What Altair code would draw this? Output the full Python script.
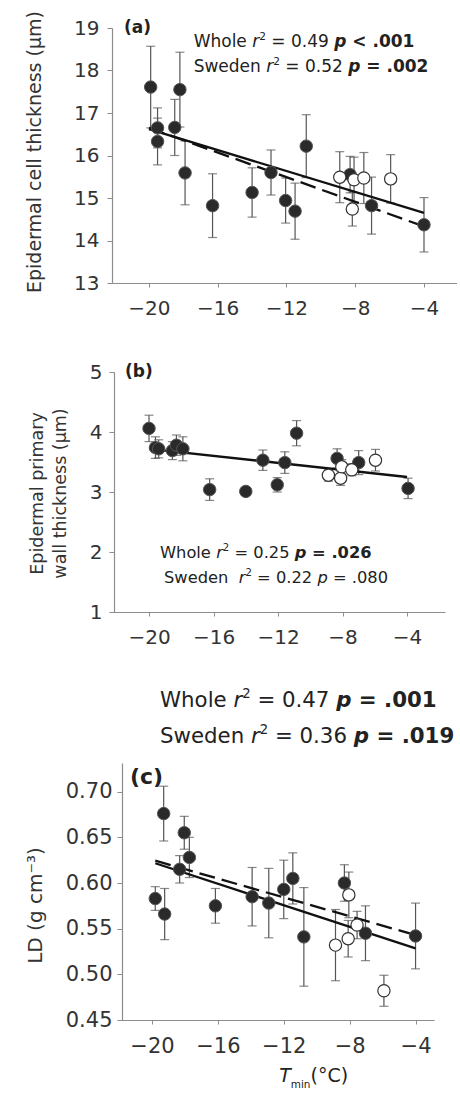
import altair as alt
import pandas as pd

FONT = "DejaVu Sans"
INK = "#222222"
DOT = "#2a2a2a"
AXIS_GRAY = "#8c8c8c"
BAR_GRAY = "#555555"
X_TICKS = [-20, -16, -12, -8, -4]

# ---------------- (a) epidermal cell thickness ----------------
a_sw_x = [-19.9, -19.5, -19.5, -18.5, -18.2, -17.9, -16.3, -14.0, -12.9, -12.05, -11.5, -10.85, -8.3, -7.05, -4.0]
a_sw_y = [17.61, 16.65, 16.33, 16.66, 17.55, 15.59, 14.82, 15.13, 15.60, 14.94, 14.69, 16.22, 15.55, 14.82, 14.37]
a_sw_e = [0.96, 0.47, 0.55, 0.66, 0.88, 0.75, 0.75, 0.58, 0.53, 0.53, 0.66, 0.74, 0.43, 0.67, 0.64]
a_ot_x = [-8.9, -8.07, -8.17, -7.5, -5.94]
a_ot_y = [15.49, 15.43, 14.74, 15.47, 15.45]
a_ot_e = [0.60, 0.53, 0.40, 0.60, 0.57]
a_fit_x = [-20.0, -4.0]
a_fit_whole = [16.62, 14.65]
a_fit_sweden = [16.65, 14.33]

# ---------------- (b) epidermal primary wall thickness ----------------
b_sw_x = [-20.0, -19.6, -19.4, -18.55, -18.3, -17.9, -16.24, -14.0, -12.94, -12.05, -11.58, -10.85, -8.34, -7.0, -3.94]
b_sw_y = [4.06, 3.74, 3.72, 3.69, 3.78, 3.72, 3.04, 3.01, 3.53, 3.12, 3.49, 3.98, 3.56, 3.49, 3.06]
b_sw_e = [0.22, 0.18, 0.15, 0.15, 0.17, 0.20, 0.18, 0.03, 0.17, 0.12, 0.18, 0.21, 0.16, 0.20, 0.17]
b_ot_x = [-8.88, -8.12, -8.05, -7.43, -5.96]
b_ot_y = [3.28, 3.23, 3.42, 3.37, 3.53]
b_ot_e = [0.10, 0.12, 0.12, 0.10, 0.18]
b_fit_x = [-20.0, -4.0]
b_fit_whole = [3.72, 3.25]

# ---------------- (c) leaf density ----------------
c_sw_x = [-19.8, -19.29, -19.23, -18.32, -18.04, -17.73, -16.15, -13.92, -12.91, -12.0, -11.45, -10.78, -8.32, -7.04, -4.0]
c_sw_y = [0.583, 0.676, 0.566, 0.615, 0.655, 0.628, 0.575, 0.585, 0.578, 0.593, 0.605, 0.541, 0.600, 0.545, 0.542]
c_sw_e = [0.013, 0.030, 0.028, 0.015, 0.018, 0.022, 0.019, 0.032, 0.038, 0.032, 0.028, 0.054, 0.020, 0.030, 0.036]
c_ot_x = [-8.86, -8.05, -8.09, -7.55, -5.92]
c_ot_y = [0.532, 0.587, 0.539, 0.554, 0.482]
c_ot_e = [0.039, 0.025, 0.020, 0.015, 0.017]
c_fit_x = [-19.8, -4.0]
c_fit_whole = [0.6216, 0.5285]
c_fit_sweden = [0.6245, 0.543]

# statistics text, split into runs: n=normal, i=italic, b=bold, bi=bold italic, sup=superscript
a_notes = [
    [("Whole ", "n"), ("r", "i"), ("2", "sup"), (" = 0.49 ", "n"), ("p", "bi"), (" < .001", "b")],
    [("Sweden ", "n"), ("r", "i"), ("2", "sup"), (" = 0.52 ", "n"), ("p", "bi"), (" = .002", "b")],
]
b_notes = [
    [("Whole ", "n"), ("r", "i"), ("2", "sup"), (" = 0.25 ", "n"), ("p", "bi"), (" = .026", "b")],
    [("Sweden  ", "n"), ("r", "i"), ("2", "sup"), (" = 0.22 ", "n"), ("p", "i"), (" = .080", "n")],
]
c_notes = [
    [("Whole ", "n"), ("r", "i"), ("2", "sup"), (" = 0.47 ", "n"), ("p", "bi"), (" = .001", "b")],
    [("Sweden ", "n"), ("r", "i"), ("2", "sup"), (" = 0.36 ", "n"), ("p", "bi"), (" = .019", "b")],
]
x_title_runs = [("T", "i"), ("min", "sub"), ("(°C)", "n")]

# approximate DejaVu Sans advance widths (1/1000 em), used to place text runs
W_REG = {" ": 318, "(": 390, ")": 390, ".": 318, "<": 838, "=": 838, "W": 989, "S": 635,
         "T": 611, "h": 634, "o": 612, "l": 278, "e": 615, "w": 818, "d": 635, "n": 634,
         "r": 411, "p": 635, "m": 974, "i": 278, "°": 500, "C": 698}
W_BOLD = {" ": 348, ".": 380, "<": 838, "=": 838, "p": 716}
for _d in "0123456789":
    W_REG[_d] = 636
    W_BOLD[_d] = 696


def run_width(s, size, bold):
    table = W_BOLD if bold else W_REG
    return sum(table.get(ch, W_REG.get(ch, 620)) for ch in s) * size / 1000.0


ONE = pd.DataFrame({"k": [0]})


def text_runs(xv, yv, runs, size, xs, ys):
    layers = []
    dx = 0.0
    for txt, st in runs:
        bold = st in ("b", "bi")
        italic = st in ("i", "bi")
        fs = size * 0.62 if st == "sup" else (size * 0.55 if st == "sub" else size)
        core = txt.strip()
        dx += (len(txt) - len(txt.lstrip())) * run_width(" ", fs, bold)
        if core:
            dy = -size * 0.42 if st == "sup" else (size * 0.32 if st == "sub" else 0.0)
            layers.append(
                alt.Chart(ONE).mark_text(
                    align="left", baseline="alphabetic", dx=dx, dy=dy, font=FONT,
                    fontSize=fs, fontWeight="bold" if bold else "normal",
                    fontStyle="italic" if italic else "normal", color=INK,
                ).encode(x=alt.XDatum(xv, scale=xs), y=alt.YDatum(yv, scale=ys), text=alt.value(core))
            )
            dx += run_width(core, fs, bold)
        dx += (len(txt) - len(txt.rstrip())) * run_width(" ", fs, bold)
    return layers


def panel(sw, ot, fits, notes, note_xy, note_size, tag, tag_xy, tag_size,
          xdom, xrange, ydom, yrange, yticks, ytitle, ytitle_size, ytitle_pad, ytitle_y,
          label_size, ylabel_pad, view_h, extra=None):
    # the view spans the band of the page that belongs to this panel; the scale
    # ranges put the axes inside it
    xs = alt.Scale(domain=xdom, range=xrange, nice=False, zero=False)
    ys = alt.Scale(domain=ydom, range=yrange, nice=False, zero=False)
    xax = alt.Axis(values=X_TICKS, title=None, tickSize=4, labelPadding=11,
                   labelFontSize=label_size, domainWidth=1.2)
    yax_kw = dict(values=yticks, title=ytitle, tickSize=5, labelPadding=ylabel_pad,
                  labelFontSize=label_size, titleFontSize=ytitle_size, titleLineHeight=23,
                  titlePadding=ytitle_pad, titleY=ytitle_y, domainWidth=1.2,
                  format=".2f" if isinstance(yticks[0], float) else "d")
    if xrange[0] > 0:
        yax_kw["offset"] = -xrange[0]
    yax = alt.Axis(**yax_kw)

    pts = pd.concat([
        pd.DataFrame({"x": sw[0], "y": sw[1], "e": sw[2], "grp": "Sweden"}),
        pd.DataFrame({"x": ot[0], "y": ot[1], "e": ot[2], "grp": "Other"}),
    ], ignore_index=True)
    pts["lo"] = pts["y"] - pts["e"]
    pts["hi"] = pts["y"] + pts["e"]

    X = lambda f: alt.X(f, type="quantitative", scale=xs, axis=xax)
    Y = lambda f: alt.Y(f, type="quantitative", scale=ys, axis=yax)

    base = alt.Chart(pts)
    bars = base.mark_rule(color=BAR_GRAY, strokeWidth=1.2).encode(x=X("x"), y=Y("lo"), y2="hi:Q")
    cap_lo = base.mark_tick(orient="horizontal", size=9, thickness=1.2, color=BAR_GRAY).encode(x=X("x"), y=Y("lo"))
    cap_hi = base.mark_tick(orient="horizontal", size=9, thickness=1.2, color=BAR_GRAY).encode(x=X("x"), y=Y("hi"))

    line_layers = []
    for fx, fy, dashed in fits:
        fdf = pd.DataFrame({"x": fx, "y": fy})
        kw = dict(color="#111111", strokeWidth=2.3)
        if dashed:
            kw["strokeDash"] = [16, 7]
        line_layers.append(alt.Chart(fdf).mark_line(**kw).encode(x=X("x"), y=Y("y")))

    filled = alt.Chart(pts[pts.grp == "Sweden"]).mark_point(
        shape="circle", filled=True, size=155, fill=DOT, stroke="#555555", strokeWidth=1, opacity=1
    ).encode(x=X("x"), y=Y("y"))
    hollow = alt.Chart(pts[pts.grp == "Other"]).mark_point(
        shape="circle", filled=True, size=150, fill="white", stroke="#333333", strokeWidth=1.2, opacity=1
    ).encode(x=X("x"), y=Y("y"))

    texts = []
    for (nx, ny), runs in zip(note_xy, notes):
        texts += text_runs(nx, ny, runs, note_size, xs, ys)
    texts.append(
        alt.Chart(ONE).mark_text(align="left", baseline="middle", font=FONT, fontSize=tag_size,
                                 fontWeight="bold", color=INK)
        .encode(x=alt.XDatum(tag_xy[0], scale=xs), y=alt.YDatum(tag_xy[1], scale=ys), text=alt.value(tag))
    )
    if extra:
        ex_xy, ex_runs, ex_size = extra
        texts += text_runs(ex_xy[0], ex_xy[1], ex_runs, ex_size, xs, ys)

    return alt.layer(bars, cap_lo, cap_hi, *line_layers, filled, hollow, *texts).properties(
        width=xrange[1], height=view_h
    )


pa = panel(
    (a_sw_x, a_sw_y, a_sw_e), (a_ot_x, a_ot_y, a_ot_e),
    [(a_fit_x, a_fit_whole, False), (a_fit_x, a_fit_sweden, True)],
    a_notes, [(-17.40, 18.56), (-17.40, 17.97)], 17, "(a)", (-21.45, 19.0), 17,
    [-22.15, -2.08], [0, 345], [13, 19], [255, 0], [13, 14, 15, 16, 17, 18, 19],
    "Epidermal cell thickness (µm)", 19, 29, 123.5, 20, 8, 255,
)
pb = panel(
    (b_sw_x, b_sw_y, b_sw_e), (b_ot_x, b_ot_y, b_ot_e),
    [(b_fit_x, b_fit_whole, False)],
    b_notes, [(-19.32, 1.90), (-19.07, 1.483)], 16.3, "(b)", (-21.49, 5.0), 17,
    [-22.17, -1.65], [2, 333], [1, 5], [329, 89], [1, 2, 3, 4, 5],
    ["Epidermal primary", "wall thickness (µm)"], 17.5, 20, 210, 20, 7, 329,
)
pc = panel(
    (c_sw_x, c_sw_y, c_sw_e), (c_ot_x, c_ot_y, c_ot_e),
    [(c_fit_x, c_fit_whole, False), (c_fit_x, c_fit_sweden, True)],
    c_notes, [(-19.51, 0.793), (-19.51, 0.7533)], 21.3, "(c)", (-21.34, 0.716), 22,
    [-21.82, -2.88], [10, 322], [0.45, 0.7314], [408, 151], [0.45, 0.50, 0.55, 0.60, 0.65, 0.70],
    "LD (g cm⁻³)", 20, 20, 293, 21, 5, 408,
    extra=((-12.28, 0.3824), x_title_runs, 19),
)

chart = alt.concat(pa, pb, pc, columns=1, spacing=0, bounds="flush").properties(
    padding={"left": 25, "top": 10, "right": 0, "bottom": 0}
).configure_view(stroke=None).configure_axis(
    labelFont=FONT, titleFont=FONT, labelColor="#333333", titleColor="#333333",
    titleFontWeight="normal", domainColor=AXIS_GRAY, tickColor=AXIS_GRAY, grid=False,
)

chart.save("out.html", embed_options={"renderer": "svg", "actions": False})
